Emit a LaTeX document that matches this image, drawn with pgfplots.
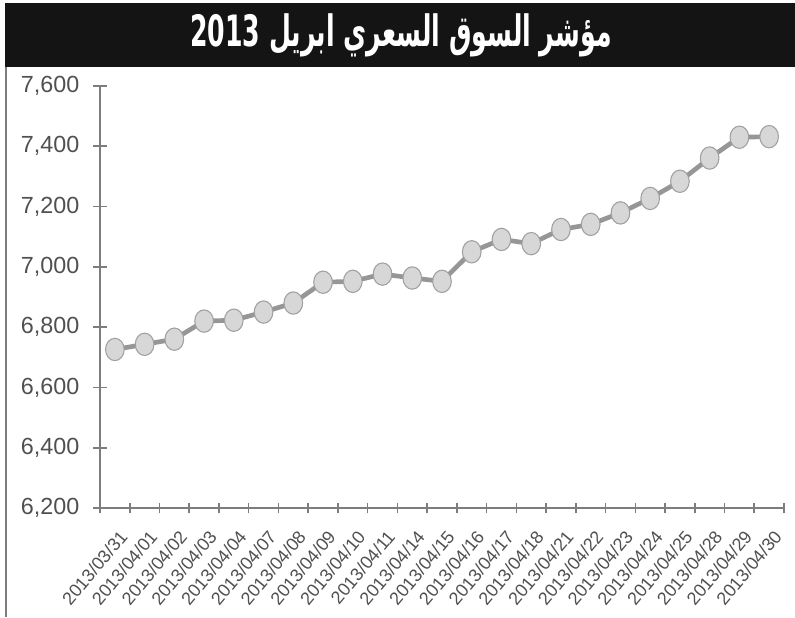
\documentclass[border=0pt]{standalone}
\usepackage{pgfplots}
\pgfplotsset{compat=1.18}
\usepackage{fontspec}
\setmainfont{Liberation Sans}
\newfontfamily\arabicfont[Script=Arabic]{DejaVu Sans}
\TeXXeTstate=1
\definecolor{axgray}{RGB}{125,125,125}
\definecolor{linegray}{RGB}{150,150,150}
\definecolor{markfill}{RGB}{215,215,215}
\definecolor{markedge}{RGB}{160,160,160}
\definecolor{labgray}{RGB}{80,80,80}
\pgfplotstableread{
idx value
0 6726
1 6743
2 6760
3 6820
4 6823
5 6850
6 6880
7 6949
8 6952
9 6976
10 6963
11 6952
12 7050
13 7091
14 7077
15 7124
16 7141
17 7179
18 7227
19 7284
20 7361
21 7430
22 7432
}\mydata
\begin{document}
\begin{tikzpicture}[x=0.75pt,y=0.75pt]
\path[use as bounding box] (0,0) rectangle (795,617);
\fill[black!92] (5,550) rectangle (795,614);
\draw[axgray, line width=1.2pt] (6,0) -- (6,550);
\node[text=white, font=\arabicfont\bfseries\fontsize{30}{36}\selectfont] at (401,582) {\scalebox{0.63}[1.08]{\beginR مؤشر السوق السعري ابريل \beginL 2013\endL\endR}};
\begin{axis}[
  at={(75pt,81.75pt)}, anchor=south west,
  scale only axis, width=513pt, height=316.5pt,
  xmin=-0.5, xmax=22.5, ymin=6200, ymax=7600,
  axis lines=left, axis line style={-, axgray, line width=1.5pt},
  tick align=center,
  xtick={0,...,22},
  xticklabels={2013/03/31,2013/04/01,2013/04/02,2013/04/03,2013/04/04,2013/04/07,2013/04/08,2013/04/09,2013/04/10,2013/04/11,2013/04/14,2013/04/15,2013/04/16,2013/04/17,2013/04/18,2013/04/21,2013/04/22,2013/04/23,2013/04/24,2013/04/25,2013/04/28,2013/04/29,2013/04/30},
  minor xtick={-0.5,0.5,...,22.5},
  major x tick style={draw=none},
  minor x tick style={axgray, line width=1.2pt},
  minor tick length=8pt,
  ytick={6200,6400,...,7600},
  major tick length=10pt,
  y tick style={axgray, line width=1.2pt},
  scaled y ticks=false,
  /pgf/number format/1000 sep={,},
  /pgf/number format/assume math mode=true,
  yticklabel style={font=\fontsize{17.5}{20}\selectfont, text=labgray, xshift=-7pt},
  xticklabel style={font=\fontsize{13.5}{15}\selectfont, text=labgray, rotate=50, anchor=east, xshift=-3pt, yshift=-14pt},
  clip=false,
]
\addplot[linegray, line width=3.5pt, mark=*, mark size=7pt,
  mark options={fill=markfill, draw=markedge, line width=0.8pt, yscale=1.2}]
  table[x=idx, y=value] {\mydata};
\end{axis}
\end{tikzpicture}
\end{document}
